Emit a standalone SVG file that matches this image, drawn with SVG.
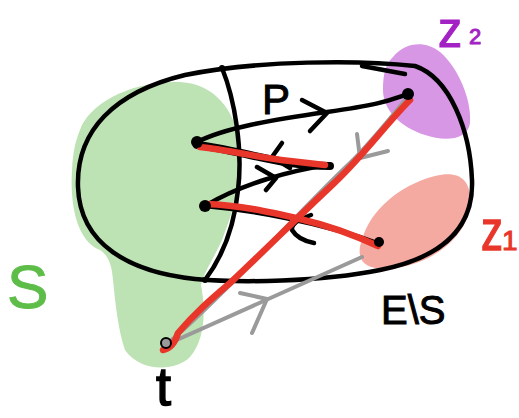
<svg xmlns="http://www.w3.org/2000/svg" width="519" height="418" viewBox="0 0 519 418">
<style>
.ln{fill:none;stroke-linecap:round;stroke-linejoin:round}
.blk{stroke:#000;stroke-width:4.5}
.thk{stroke:#000;stroke-width:8}
.red{stroke:#e9362a;stroke-width:6.5}
.gry{stroke:#9a9a9a;stroke-width:4}
.dot{fill:#000}
.txt{font-family:"Liberation Sans","DejaVu Sans",sans-serif}
</style>
<rect width="519" height="418" fill="#fff"/>
<g id="S">
<path d="M 80 130 C 88 105 130 80 180 82 C 215 84 235 110 240 145 C 243 180 232 215 222 240 C 214 258 205 270 201 285 C 206 310 205 340 190 357 C 175 372 140 372 125 350 C 118 330 115 300 113 280 C 112 265 108 255 100 250 C 75 240 70 200 72 170 C 73 150 76 140 80 130 Z" fill="#bde2b3"/>
<text class="txt" x="7" y="308" font-size="62" fill="#5dbd48" stroke="#5dbd48" stroke-width="1">S</text>
</g>
<g id="z2">
<path d="M 393 57 C 405 42 425 40 440 52 C 458 67 472 100 470 123 C 468 140 445 142 425 135 C 400 127 383 110 383 90 C 383 75 385 65 393 57 Z" fill="#d897e5"/>
<text class="txt" transform="translate(438 47) scale(1.05 1.12)" font-size="46" fill="#a322c3" stroke="#a322c3" stroke-width="1">z</text>
<text class="txt" x="469" y="44" font-size="22" fill="#a322c3" stroke="#a322c3" stroke-width="1">2</text>
</g>
<g id="z1">
<path d="M 362 240 C 370 210 400 185 435 176 C 460 170 472 180 470 205 C 468 230 445 255 410 265 C 385 272 362 270 360 255 C 359 250 360 245 362 240 Z" fill="#f5aaa1"/>
<text class="txt" transform="translate(481 250) scale(1 1.3)" font-size="44" fill="#e9362a" stroke="#e9362a" stroke-width="1">z</text>
<text class="txt" x="502" y="250" font-size="28" fill="#e9362a" stroke="#e9362a" stroke-width="1">1</text>
</g>
<g id="E">
<path class="ln blk" d="M 78 187 C 76 130 115 92 185 75 C 260 60 360 60 415 66 C 450 78 470 130 472 180 C 474 230 440 258 380 270 C 320 282 240 283 195 279 C 130 272 80 245 78 187 Z"/>
<path class="ln blk" d="M 362 66 L 405 74"/>
<path class="ln blk" d="M 222 68 C 235 100 243 150 238 190 C 234 230 220 260 205 280"/>
<circle class="dot" cx="222" cy="68" r="3"/>
<circle class="dot" cx="205" cy="280" r="3"/>
<text class="txt" x="381" y="324" font-size="40" fill="#000" stroke="#000" stroke-width="1">E\S</text>
</g>
<g id="connectors">
<path class="ln blk" d="M 197 142 C 225 128 270 120 327 112 S 390 100 408 94"/>
<path class="ln blk" d="M 302 100 L 327 113 L 310 131"/>
<text class="txt" x="262" y="114" font-size="42" fill="#000" stroke="#000" stroke-width="1">P</text>
<path class="ln thk" d="M 197 145 C 240 150 280 166 330 166"/>
<path class="ln blk" d="M 282 143 L 272 157 L 290 168"/>
<path class="ln blk" d="M 330 165 C 290 170 240 185 205 206"/>
<path class="ln blk" d="M 257 167 L 276 178 L 266 190"/>
<path class="ln blk" d="M 205 206 C 250 210 320 222 380 244"/>
<path class="ln blk" d="M 311 215 Q 291 222 292 230 Q 298 240 314 243"/>
<path class="ln gry" d="M 168 343 C 220 300 300 210 350 163 C 375 138 395 112 410 94"/>
<path class="ln gry" d="M 357 134 L 360 158 L 388 151"/>
<path class="ln gry" d="M 170 343 L 362 257"/>
<path class="ln gry" d="M 240 293 L 267 299 L 252 333"/>
<path class="ln red" d="M 200 147 C 230 150 260 158 290 161 L 325 165"/>
<path class="ln red" d="M 205 204 C 240 205 270 212 300 219 S 350 233 378 246"/>
<path class="ln red" d="M 163 350 C 172 348 176 340 178 333 C 195 313 210 300 230 283 C 260 255 300 215 330 187 C 360 160 385 125 410 100"/>
<circle class="dot" cx="197" cy="142" r="6"/>
<circle class="dot" cx="205" cy="206" r="6"/>
<circle class="dot" cx="408" cy="94" r="6"/>
<circle class="dot" cx="379" cy="242" r="5"/>
<circle cx="166" cy="343" r="5" fill="#9a9a9a" stroke="#000" stroke-width="2"/>
</g>
<g id="t">
<text class="txt" x="156" y="405" font-size="54" fill="#000" stroke="#000" stroke-width="1.5">t</text>
</g>
</svg>
